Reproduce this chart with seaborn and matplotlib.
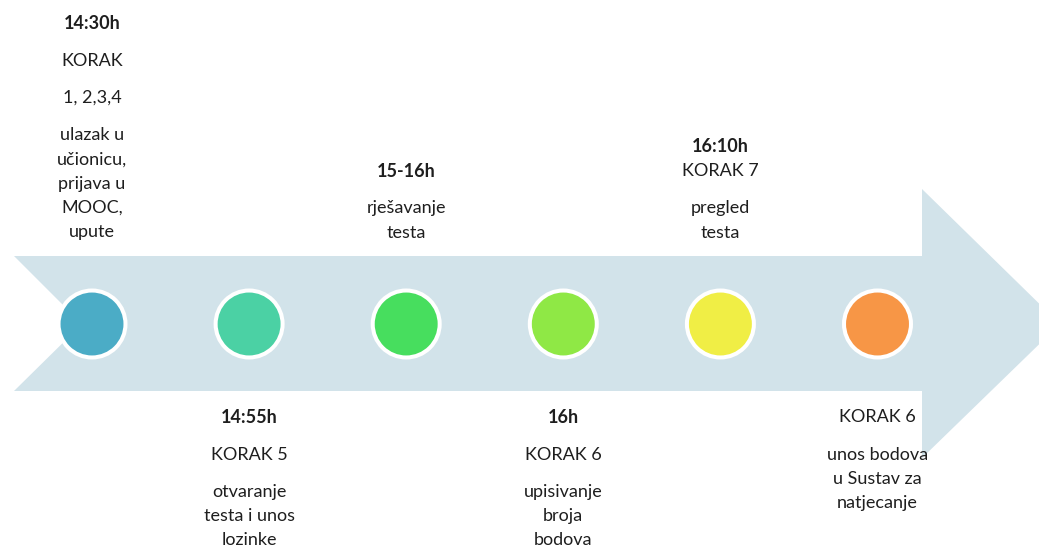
import matplotlib
matplotlib.use("Agg")
import matplotlib.pyplot as plt
import seaborn as sns
import pandas as pd

# Timeline data
steps = ["1", "2", "3", "4", "5", "6"]
times = ["14:30h", "14:55h", "15-16h", "16h", "16:10h", ""]
korak = [["KORAK", "1, 2,3,4"], ["KORAK 5"], [], ["KORAK 6"], ["KORAK 7"], ["KORAK 6"]]
descriptions = [
    ["ulazak u", "učionicu,", "prijava u", "MOOC,", "upute"],
    ["otvaranje", "testa i unos", "lozinke"],
    ["rješavanje", "testa"],
    ["upisivanje", "broja", "bodova"],
    ["pregled", "testa"],
    ["unos bodova", "u Sustav za", "natjecanje"],
]
colors = ["#4BACC6", "#4BD1A4", "#47DE5E", "#8FE845", "#F0EE45", "#F79646"]

sns.set_theme(style="white")
plt.rcParams["font.family"] = ["Lato", "DejaVu Sans"]

W, H = 1039, 547
X0, DX = 92, 157.1   # pixel position of first step and spacing
MID = 324            # arrow centre line (pixels from top)
LINE, GAP = 24.4, 37.0
FS = 13


def px(x):
    """Pixel x -> step units."""
    return (x - X0) / DX


fig = plt.figure(figsize=(W / 100, H / 100), dpi=100)
ax = fig.add_axes([0, 0, 1, 1])
ax.set_xlim(px(0), px(W))
ax.set_ylim(H, 0)
ax.axis("off")

# Big arrow
arrow = [(14, 256), (922, 256), (922, 189), (1060, MID), (922, 458),
         (922, 391), (14, 391), (82, MID)]
ax.fill([px(p[0]) for p in arrow], [p[1] for p in arrow],
        color="#D2E3EA", lw=0, zorder=1)

# Circles
df = pd.DataFrame({"step": range(len(steps)), "y": [MID] * len(steps), "label": steps})
sns.scatterplot(data=df, x="step", y="y", hue="label", palette=colors,
                s=2325, edgecolor="white", linewidth=2.9, legend=False,
                ax=ax, zorder=3)

# Text blocks
for i in range(len(steps)):
    paras = []
    if times[i]:
        paras.append([(times[i], True)])
    for k in korak[i]:
        if i == 4:
            paras[-1].append((k, False))
        else:
            paras.append([(k, False)])
    paras.append([(d, False) for d in descriptions[i]])

    lines = []
    y = 0.0
    for p_i, para in enumerate(paras):
        if p_i > 0:
            y += GAP
        for l_i, (txt, bold) in enumerate(para):
            if l_i > 0:
                y += LINE
            lines.append((txt, bold, y))
    total = y
    if i % 2 == 0:
        start = 231 - total
    else:
        start = 416
    for txt, bold, yy in lines:
        ax.text(i, start + yy, txt, ha="center", va="center_baseline",
                fontsize=FS, fontweight="bold" if bold else "normal",
                color="#1E1E1E", zorder=4)

fig.savefig("out.png", dpi=100)
